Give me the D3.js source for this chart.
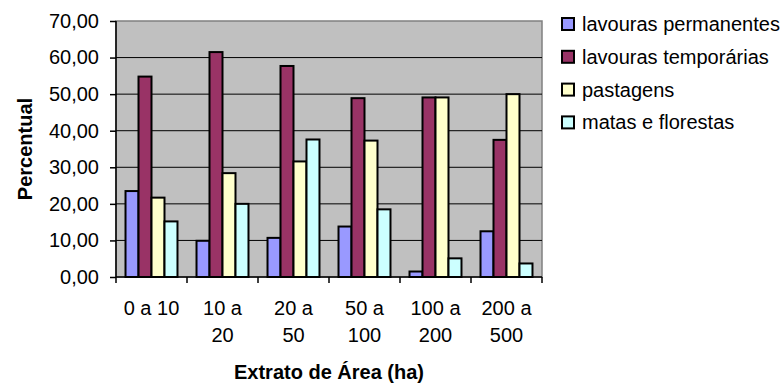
<!DOCTYPE html>
<html>
<head>
<meta charset="utf-8">
<script src="https://cdnjs.cloudflare.com/ajax/libs/d3/7.8.5/d3.min.js"></script>
<style>
  body { margin: 0; background: #fff; }
  svg { display: block; font-family: "Liberation Sans", Arial, sans-serif; }
</style>
</head>
<body>
<div id="chart"></div>
<script>
const categories = [['0 a 10'], ['10 a', '20'], ['20 a', '50'], ['50 a', '100'], ['100 a', '200'], ['200 a', '500']];
const seriesNames = ['lavouras permanentes', 'lavouras temporárias', 'pastagens', 'matas e florestas'];
const permanentes = [23.5, 9.9, 10.7, 13.8, 1.5, 12.5];
const temporarias = [54.8, 61.5, 57.7, 48.9, 49.1, 37.5];
const pastagens = [21.7, 28.4, 31.6, 37.3, 49.1, 50.0];
const matas = [15.2, 20.0, 37.6, 18.5, 5.1, 3.7];
const yTicks = [0, 10, 20, 30, 40, 50, 60, 70];
const colors = ['#9999FF', '#993366', '#FFFFCC', '#CCFFFF'];

const seriesValues = [permanentes, temporarias, pastagens, matas];
const W = 783, H = 383;
const plot = { left: 116, top: 21, right: 542, bottom: 277 };
const FS = '20px';

const svg = d3.select('#chart').append('svg')
  .attr('width', W).attr('height', H);

const catIdx = categories.map((d, i) => i);
const x0 = d3.scaleBand().domain(catIdx).range([plot.left, plot.right]);
const bw = x0.bandwidth();
const gap = bw * 0.268;
const x1 = d3.scaleBand().domain(d3.range(seriesNames.length)).range([gap / 2, bw - gap / 2]);
const y = d3.scaleLinear().domain([0, 70]).range([plot.bottom, plot.top]);

// plot background
svg.append('rect')
  .attr('x', plot.left).attr('y', plot.top)
  .attr('width', plot.right - plot.left).attr('height', plot.bottom - plot.top)
  .attr('fill', '#C0C0C0').attr('stroke', '#808080').attr('stroke-width', 1.5);

// gridlines
svg.append('g')
  .selectAll('line').data(yTicks.filter(t => t > 0 && t < 70)).join('line')
  .attr('x1', plot.left).attr('x2', plot.right)
  .attr('y1', d => y(d)).attr('y2', d => y(d))
  .attr('stroke', '#000').attr('stroke-width', 1);

// bars
const groups = svg.append('g').selectAll('g').data(catIdx).join('g')
  .attr('transform', i => `translate(${x0(i)},0)`);
groups.selectAll('rect')
  .data(i => seriesValues.map((vals, s) => ({ s, v: vals[i] })))
  .join('rect')
  .attr('x', d => x1(d.s))
  .attr('width', x1.bandwidth())
  .attr('y', d => y(d.v))
  .attr('height', d => y(0) - y(d.v))
  .attr('fill', d => colors[d.s])
  .attr('stroke', '#000').attr('stroke-width', 2);

// y axis
const yAxis = svg.append('g')
  .attr('transform', `translate(${plot.left},0)`)
  .call(d3.axisLeft(y).tickValues(yTicks).tickSize(6).tickPadding(11)
    .tickFormat(d => d3.format('.2f')(d).replace('.', ',')));
yAxis.select('.domain').attr('stroke', '#000').attr('stroke-width', 1.5).attr('d', `M0,${plot.top}V${plot.bottom}`);
yAxis.selectAll('.tick line').attr('stroke', '#000').attr('stroke-width', 1.5);
yAxis.selectAll('text').attr('font-size', FS).attr('fill', '#000')
  .attr('font-family', '"Liberation Sans", Arial, sans-serif');

// x axis line and ticks
svg.append('line')
  .attr('x1', plot.left).attr('x2', plot.right)
  .attr('y1', plot.bottom).attr('y2', plot.bottom)
  .attr('stroke', '#000').attr('stroke-width', 1.5);
svg.append('g').selectAll('line').data(d3.range(categories.length + 1)).join('line')
  .attr('x1', i => plot.left + i * bw).attr('x2', i => plot.left + i * bw)
  .attr('y1', plot.bottom).attr('y2', plot.bottom + 6)
  .attr('stroke', '#000').attr('stroke-width', 1.5);

// category labels
const catLabels = svg.append('g').selectAll('text').data(catIdx).join('text')
  .attr('text-anchor', 'middle')
  .attr('font-size', FS)
  .attr('fill', '#000');
catLabels.selectAll('tspan').data(i => categories[i].map(l => ({ l, x: x0(i) + bw / 2 })))
  .join('tspan')
  .attr('x', d => d.x)
  .attr('y', (d, j) => 315 + j * 27)
  .text(d => d.l);

// axis titles
svg.append('text')
  .attr('transform', `translate(32,${(plot.top + plot.bottom) / 2}) rotate(-90)`)
  .attr('text-anchor', 'middle')
  .attr('font-size', FS).attr('font-weight', 'bold')
  .text('Percentual');
svg.append('text')
  .attr('x', 329).attr('y', 379)
  .attr('text-anchor', 'middle')
  .attr('font-size', FS).attr('font-weight', 'bold')
  .text('Extrato de Área (ha)');

// legend
const legend = svg.append('g').selectAll('g').data(seriesNames).join('g')
  .attr('transform', (d, i) => `translate(562,${18 + i * 32.8})`);
legend.append('rect')
  .attr('width', 12).attr('height', 12)
  .attr('fill', (d, i) => colors[i])
  .attr('stroke', '#000').attr('stroke-width', 2);
legend.append('text')
  .attr('x', 20).attr('y', 13)
  .attr('font-size', FS)
  .text(d => d);
</script>
</body>
</html>
